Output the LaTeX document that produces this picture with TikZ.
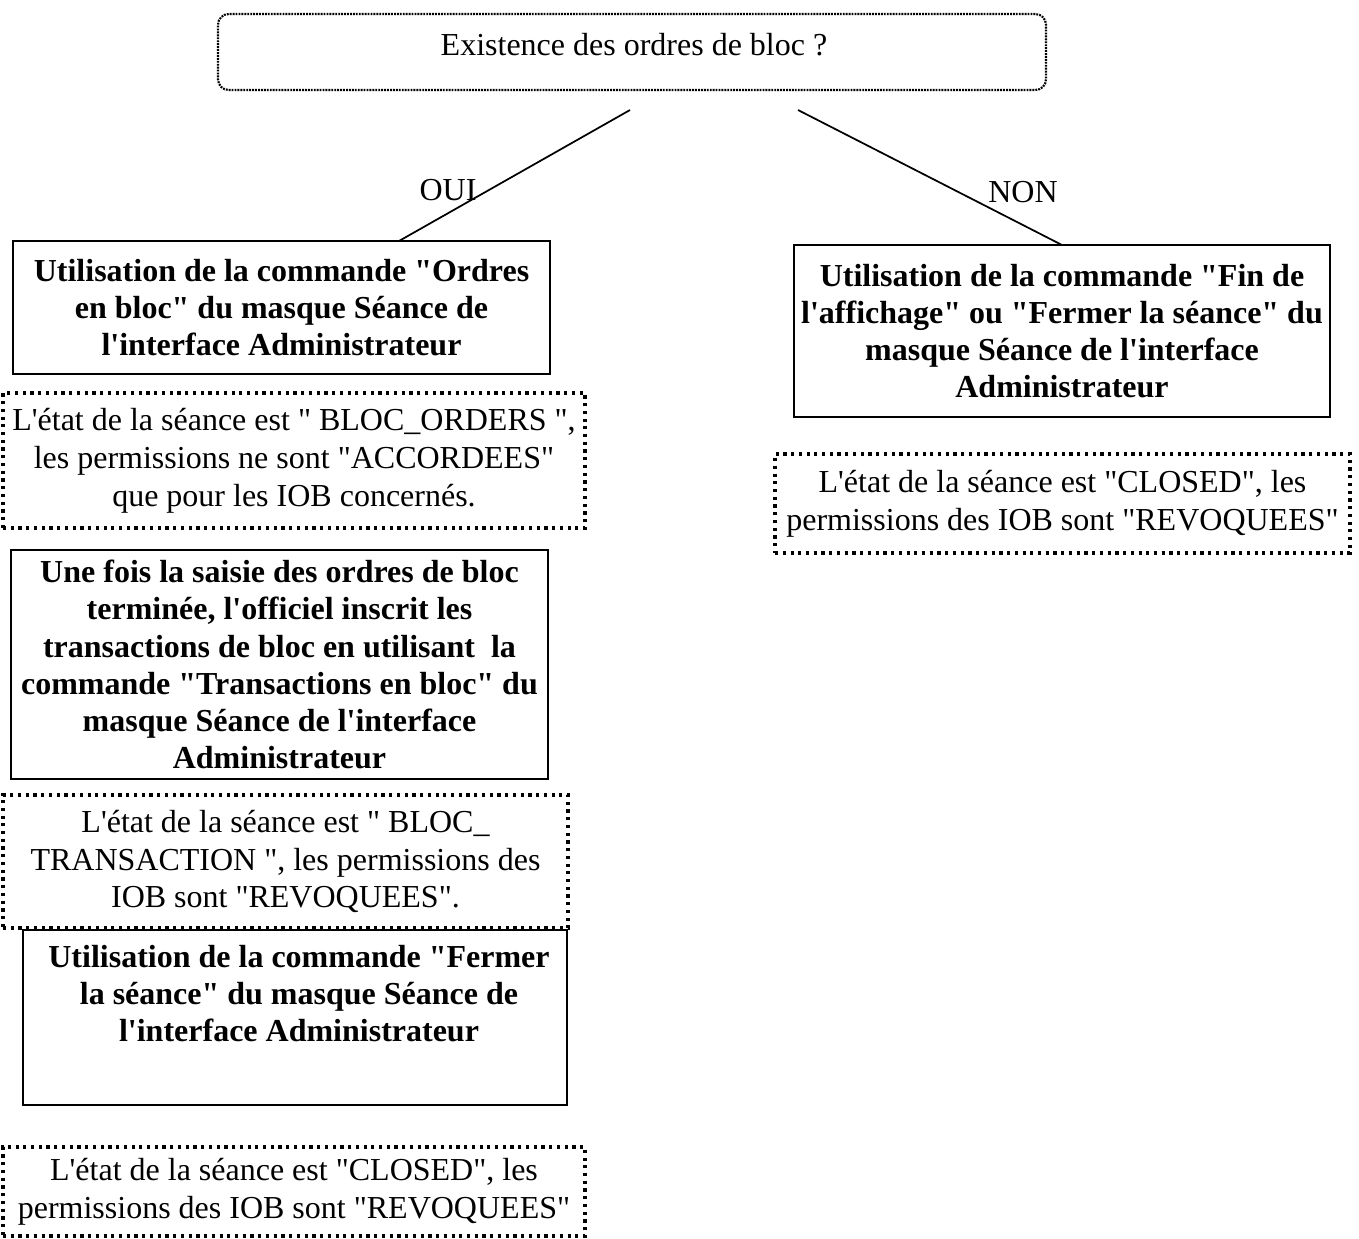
\documentclass[tikz,border=0pt]{standalone}
\usepackage{fontspec}
\setmainfont{Liberation Serif}[Ligatures=TeXOff]
\begin{document}
\begin{tikzpicture}[x=0.375pt,y=-0.375pt,
  boldtxt/.style={font=\bfseries\fontsize{12}{13.9}\selectfont},
  plaintxt/.style={font=\fontsize{12}{14.2}\selectfont},
  solidbox/.style={draw, line width=0.9pt, inner sep=0pt, align=center, boldtxt},
  dotbox/.style={draw, line width=1.4pt, dash pattern=on 1.2pt off 1.7pt, inner sep=0pt, align=center, plaintxt},
  questbox/.style={draw, line width=0.8pt, dash pattern=on 0.7pt off 0.4pt, rounded corners=4pt, inner sep=0pt},
  branch/.style={line width=0.65pt},
  lbl/.style={inner sep=0pt, plaintxt}]
\useasboundingbox (0,0) rectangle (1359,1238);

% question at the top
\node[questbox, minimum width=310.5pt, minimum height=28.5pt] (q) at (632,52) {};
\node[plaintxt, inner sep=0pt] (qt) at (634,45) {Existence des ordres de bloc ?};

% left branch
\node[solidbox, minimum width=201.4pt, minimum height=49.9pt] (b1) at (281.5,307.5)
  {Utilisation de la commande "Ordres\\ en bloc" du masque Séance de\\ l'interface Administrateur};
\node[dotbox, minimum width=218.25pt, minimum height=50.6pt] (d1) at (294,460.5)
  {L'état de la séance est " BLOC\_ORDERS ",\\ les permissions ne sont "ACCORDEES"\\ que pour les IOB concernés.};
\node[solidbox, minimum width=201.4pt, minimum height=85.9pt] (b3) at (279.5,664.5)
  {Une fois la saisie des ordres de bloc\\ terminée, l'officiel inscrit les\\ transactions de bloc en utilisant\ \ la\\ commande "Transactions en bloc" du\\ masque Séance de l'interface\\ Administrateur};
\node[dotbox, minimum width=211.9pt, minimum height=49.9pt] (d3) at (285.5,861.5)
  {L'état de la séance est " BLOC\_\\ TRANSACTION ", les permissions des\\ IOB sont "REVOQUEES".};
\node[draw, line width=0.9pt, minimum width=204pt, minimum height=65.6pt, inner sep=0pt] (b4) at (295,1017.5) {};
\node[boldtxt, align=center, inner sep=0pt] (b4t) at (299,994)
  {Utilisation de la commande "Fermer\\ la séance" du masque Séance de\\ l'interface Administrateur};
\node[dotbox, minimum width=218.25pt, minimum height=33.4pt] (d4) at (294,1191.5)
  {L'état de la séance est "CLOSED", les\\ permissions des IOB sont "REVOQUEES"};

% right branch
\node[solidbox, minimum width=201pt, minimum height=64.5pt] (b2) at (1062,331)
  {Utilisation de la commande "Fin de\\ l'affichage" ou "Fermer la séance" du\\ masque Séance de l'interface\\ Administrateur};
\node[dotbox, minimum width=215.6pt, minimum height=37.1pt] (d2) at (1062.5,503.5)
  {L'état de la séance est "CLOSED", les\\ permissions des IOB sont "REVOQUEES"};

% branches
\coordinate (ouiS) at (630,110);
\coordinate (ouiE) at (399,241);
\coordinate (nonS) at (798,110);
\coordinate (nonE) at (1062,245);
\draw[branch] (ouiS) -- (ouiE);
\draw[branch] (nonS) -- (nonE);
\node[lbl] (oui) at (448,190) {OUI};
\node[lbl] (non) at (1023,192) {NON};
\end{tikzpicture}
\end{document}
